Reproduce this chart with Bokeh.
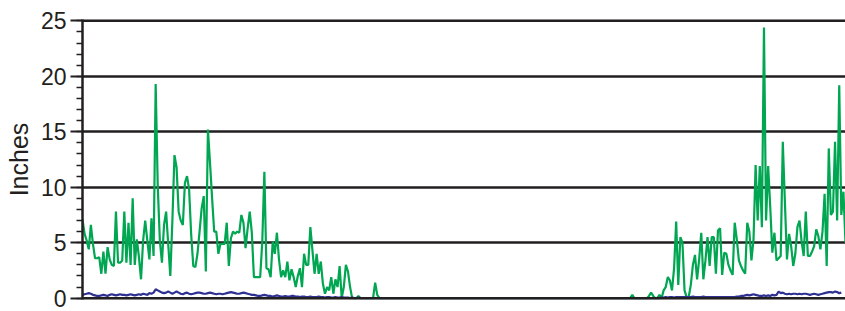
from bokeh.plotting import figure
from bokeh.models import Range1d, SingleIntervalTicker, Span
from bokeh.embed import file_html
from bokeh.resources import INLINE

# ---------------- data (daily values, inches) ----------------
days = list(range(366))

snow_early = [7.1, 5.8, 5.2, 4.4, 6.6, 4.9, 3.6, 3.6, 3.7, 2.2, 4.2, 2.2, 4.6, 3.5, 3.0, 2.9, 7.8, 3.2, 3.2, 3.4,
              7.8, 3.2, 6.8, 3.0, 9.0, 3.0, 5.3, 3.7, 1.7, 5.2, 7.0, 5.2, 3.5, 7.2, 3.8, 19.3,
              10.1, 5.2, 3.2, 6.6, 7.8, 4.9, 2.0, 7.0, 12.9,
              11.8, 7.8, 7.0, 6.6, 10.4, 11.0, 9.8, 5.7, 2.9, 2.8, 4.0, 6.0, 8.1, 9.2, 2.4,
              15.2,
              12.2, 9.0, 6.0, 6.0, 4.0, 4.9, 4.9, 4.9, 6.8, 2.9, 5.4, 6.0, 5.8, 6.0, 5.9, 7.5,
              6.8, 4.5, 6.3, 7.8, 5.9, 1.9, 1.9, 1.9, 1.9, 5.1,
              11.4,
              2.7, 2.6, 1.9, 5.1, 4.0, 5.9, 3.5, 1.9, 2.5, 1.9, 3.3, 1.6, 2.6, 1.9, 1.0, 2.0, 2.7, 1.0, 4.0, 3.0,
              3.0, 6.4, 4.3, 2.2, 4.0, 2.2, 3.3, 1.3,
              0.4, 1.0, 0.7, 1.9, 0.4, 1.7, 1.0, 2.9, 0.0, 1.0, 3.0, 2.4, 1.0, 0.0, 0.0, 0.0, 0.2, 0.0, 0.0, 0.0,
              0.0, 0.0, 0.0, 0.0, 1.4, 0.3, 0.0]

snow_summer = [0.0, 0.0, 0.0, 0.0, 0.0, 0.0, 0.0, 0.0, 0.0, 0.0, 0.0, 0.0, 0.0, 0.0, 0.0, 0.0, 0.0, 0.0, 0.0, 0.0,
               0.0, 0.0, 0.0, 0.0, 0.0, 0.0, 0.0, 0.0, 0.0, 0.0, 0.0, 0.0, 0.0, 0.0, 0.0, 0.0, 0.0, 0.0, 0.0, 0.0,
               0.0, 0.0, 0.0, 0.0, 0.0, 0.0, 0.0, 0.0, 0.0, 0.0, 0.0, 0.0, 0.0, 0.0, 0.0, 0.0, 0.0, 0.0, 0.0, 0.0,
               0.0, 0.0, 0.0, 0.0, 0.0, 0.0, 0.0, 0.0, 0.0, 0.0, 0.0, 0.0, 0.0, 0.0, 0.0, 0.0, 0.0, 0.0, 0.0, 0.0,
               0.0, 0.0, 0.0, 0.0, 0.0, 0.0, 0.0, 0.0, 0.0, 0.0, 0.0, 0.0, 0.0, 0.0, 0.0, 0.0, 0.0, 0.0, 0.0, 0.0,
               0.0, 0.0, 0.0, 0.0, 0.0, 0.0, 0.0, 0.0, 0.0, 0.0, 0.0, 0.0, 0.0, 0.0, 0.0, 0.0, 0.0, 0.0]

snow_late = [0.0, 0.0, 0.3, 0.0, 0.0, 0.0, 0.0, 0.0, 0.0, 0.0, 0.2, 0.5, 0.2, 0.0, 0.0, 0.3, 0.0, 0.7, 1.0, 1.9,
             1.6, 0.7, 2.7, 6.9, 1.2, 5.5, 5.0, 0.7, 0.1, 0.1, 1.2, 3.0, 3.9, 1.7, 3.5, 5.9, 1.7, 3.4, 5.5, 2.9,
             5.5, 5.5, 2.2, 6.1, 6.3, 2.1, 4.1, 4.0, 3.0, 2.5, 2.1, 6.8, 5.3, 3.4, 2.9, 2.5, 2.2, 6.8, 6.0, 3.4,
             5.3, 12.0, 7.0, 11.9, 6.4, 24.4, 7.0, 11.9, 8.2, 4.1, 5.9, 3.4, 3.6, 3.8, 14.1, 8.7, 3.5, 5.8, 4.7, 2.9,
             4.0, 6.4, 7.0, 5.1, 3.8, 7.8, 3.8, 3.8, 4.2, 4.7, 6.2, 5.6, 4.4, 6.0, 9.4, 2.9, 13.5, 7.5, 7.8, 14.1,
             7.0, 19.2, 7.5, 9.6, 5.0]

precip = [0.3, 0.35, 0.4, 0.45, 0.4, 0.3, 0.25, 0.2, 0.2, 0.25, 0.3, 0.25, 0.2, 0.3, 0.35, 0.3, 0.25, 0.3, 0.35, 0.3,
          0.3, 0.25, 0.3, 0.35, 0.3, 0.25, 0.3, 0.35, 0.3, 0.4, 0.35, 0.3, 0.45, 0.4, 0.5, 0.8, 0.7, 0.6, 0.5, 0.45,
          0.5, 0.6, 0.5, 0.4, 0.5, 0.6, 0.5, 0.4, 0.35, 0.45, 0.5, 0.4, 0.35, 0.4, 0.45, 0.5, 0.5, 0.45, 0.4, 0.4,
          0.45, 0.5, 0.45, 0.4, 0.35, 0.4, 0.4, 0.35, 0.4, 0.45, 0.5, 0.55, 0.5, 0.45, 0.4, 0.4, 0.45, 0.5, 0.45, 0.4,
          0.35, 0.3, 0.3, 0.25, 0.2, 0.2, 0.25, 0.3, 0.25, 0.2, 0.2, 0.15, 0.2, 0.25, 0.2, 0.15, 0.15, 0.2, 0.15, 0.15,
          0.2, 0.2, 0.15, 0.15, 0.1, 0.15, 0.15, 0.1, 0.1, 0.15, 0.1, 0.1, 0.1, 0.15, 0.1, 0.1, 0.05, 0.1, 0.1, 0.05,
          0.05, 0.1, 0.05, 0.05, 0.1, 0.05, 0.05, 0.05, 0.0, 0.05, 0.0, 0.0, 0.05, 0.0, 0.0, 0.0, 0.0, 0.0, 0.0, 0.0,
          0.0, 0.0, 0.0, 0.0, 0.0, 0.0, 0.0, 0.0, 0.0, 0.0, 0.0, 0.0, 0.0, 0.0, 0.0, 0.0, 0.0, 0.0, 0.0, 0.0,
          0.0, 0.0, 0.0, 0.0, 0.0, 0.0, 0.0, 0.0, 0.0, 0.0, 0.0, 0.0, 0.0, 0.0, 0.0, 0.0, 0.0, 0.0, 0.0, 0.0,
          0.0, 0.0, 0.0, 0.0, 0.0, 0.0, 0.0, 0.0, 0.0, 0.0, 0.0, 0.0, 0.0, 0.0, 0.0, 0.0, 0.0, 0.0, 0.0, 0.0,
          0.0, 0.0, 0.0, 0.0, 0.0, 0.0, 0.0, 0.0, 0.0, 0.0, 0.0, 0.0, 0.0, 0.0, 0.0, 0.0, 0.0, 0.0, 0.0, 0.0,
          0.0, 0.0, 0.0, 0.0, 0.0, 0.0, 0.0, 0.0, 0.0, 0.0, 0.0, 0.0, 0.0, 0.0, 0.0, 0.0, 0.0, 0.0, 0.0, 0.0,
          0.0, 0.0, 0.0, 0.0, 0.0, 0.0, 0.0, 0.0, 0.0, 0.0, 0.0, 0.0, 0.0, 0.0, 0.0, 0.0, 0.0, 0.0, 0.0, 0.0,
          0.0, 0.0, 0.0, 0.0, 0.0, 0.0, 0.0, 0.0, 0.0, 0.0, 0.0, 0.0, 0.0, 0.0, 0.0, 0.0, 0.0, 0.05, 0.05, 0.1,
          0.05, 0.1, 0.1, 0.05, 0.1, 0.1, 0.1, 0.1, 0.1, 0.1, 0.1, 0.1, 0.15, 0.1, 0.1, 0.1, 0.1, 0.15, 0.1, 0.1,
          0.1, 0.1, 0.1, 0.1, 0.1, 0.1, 0.1, 0.1, 0.1, 0.1, 0.1, 0.1, 0.1, 0.15, 0.15, 0.2, 0.2, 0.25, 0.3, 0.25,
          0.3, 0.35, 0.3, 0.25, 0.2, 0.2, 0.25, 0.2, 0.25, 0.2, 0.3, 0.25, 0.3, 0.6, 0.45, 0.5, 0.4, 0.35, 0.4, 0.35,
          0.4, 0.4, 0.35, 0.4, 0.35, 0.4, 0.4, 0.35, 0.3, 0.35, 0.4, 0.35, 0.3, 0.35, 0.4, 0.45, 0.5, 0.55, 0.55, 0.5,
          0.6, 0.55, 0.45, 0.5]

snow = snow_early + snow_summer + snow_late

y_tick_interval = 5
y_max = 25

INK = "#231F20"
GREEN = "#00A651"
BLUE = "#2E3192"
FONT = "Liberation Sans"

p = figure(width=845, height=311, output_backend="svg", toolbar_location=None,
           x_range=Range1d(0, len(days) - 1), y_range=Range1d(-0.12, y_max + 0.12),
           min_border_left=82, min_border_right=0, min_border_top=19, min_border_bottom=12,
           background_fill_color="white", border_fill_color="white")
p.outline_line_color = None
p.xaxis.visible = False
p.xgrid.visible = False

yt = SingleIntervalTicker(interval=y_tick_interval, num_minor_ticks=5)
p.yaxis.ticker = yt
p.ygrid.ticker = SingleIntervalTicker(interval=y_tick_interval)
p.ygrid.grid_line_color = INK
p.ygrid.grid_line_width = 2.5

ax = p.yaxis[0]
ax.axis_label = "Inches"
ax.axis_label_text_font = FONT
ax.axis_label_text_font_size = "25px"
ax.axis_label_text_font_style = "normal"
ax.axis_label_text_color = INK
ax.axis_label_standoff = 5
ax.major_label_text_font = FONT
ax.major_label_text_font_size = "23px"
ax.major_label_text_color = INK
ax.major_label_standoff = 4
ax.axis_line_color = INK
ax.axis_line_width = 2.5
ax.major_tick_line_color = INK
ax.major_tick_line_width = 2
ax.major_tick_out = 12
ax.major_tick_in = 0
ax.minor_tick_line_color = INK
ax.minor_tick_line_width = 1.5
ax.minor_tick_out = 6
ax.minor_tick_in = 0

p.line(days, snow, line_color=GREEN, line_width=2.2)
p.line(days, precip, line_color=BLUE, line_width=2.2)

p.add_layout(Span(location=0, dimension="width", line_color=INK, line_width=2.5))
p.add_layout(Span(location=y_max, dimension="width", line_color=INK, line_width=2.5))

open("out.html", "w").write(file_html(p, INLINE))
